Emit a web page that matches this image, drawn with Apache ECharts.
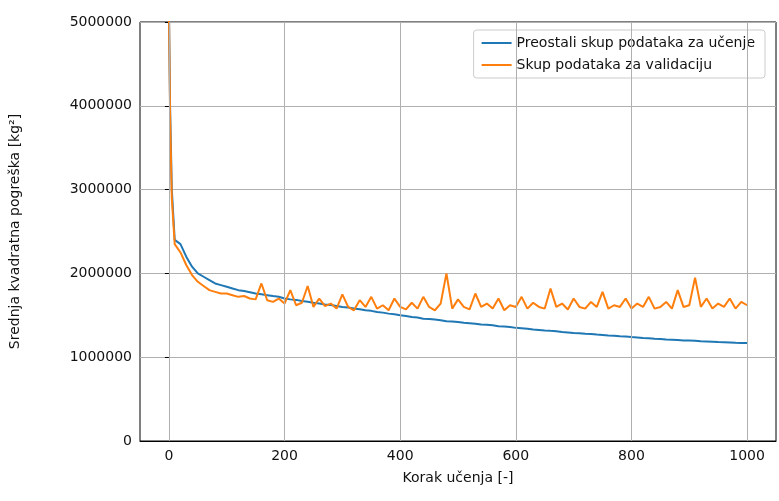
<!DOCTYPE html>
<html><head><meta charset="utf-8">
<script src="https://cdn.jsdelivr.net/npm/echarts@6/dist/echarts.min.js"></script>
<style>body{margin:0}#main{width:779px;height:501px}</style>
</head><body><div id="main"></div>
<script>
var steps = [0,2,5,10,20,30,40,50,60,70,80,90,100,110,120,130,140,150,160,170,180,190,200,210,220,230,240,250,260,270,280,290,300,310,320,330,340,350,360,370,380,390,400,410,420,430,440,450,460,470,480,490,500,510,520,530,540,550,560,570,580,590,600,610,620,630,640,650,660,670,680,690,700,710,720,730,740,750,760,770,780,790,800,810,820,830,840,850,860,870,880,890,900,910,920,930,940,950,960,970,980,990,1000];
// values in thousands of kg^2
var train = [5200,4000,3000,2400,2350,2200,2080,2000,1960,1920,1880,1860,1840,1820,1800,1790,1775,1760,1750,1740,1730,1722,1700,1690,1684,1670,1662,1650,1642,1630,1622,1612,1600,1592,1580,1572,1560,1553,1540,1532,1520,1512,1500,1492,1480,1473,1460,1456,1450,1441,1430,1426,1420,1410,1406,1400,1390,1386,1380,1370,1366,1360,1350,1346,1340,1330,1326,1320,1315,1311,1300,1296,1290,1286,1280,1276,1270,1266,1260,1256,1250,1246,1240,1236,1230,1226,1220,1216,1210,1208,1205,1200,1198,1195,1190,1188,1185,1180,1178,1175,1172,1170,1168];
var valid = [5200,3900,2900,2350,2250,2100,1980,1900,1850,1800,1780,1760,1760,1740,1720,1730,1700,1690,1880,1680,1660,1700,1640,1800,1620,1650,1850,1600,1700,1610,1640,1580,1750,1600,1560,1680,1600,1720,1580,1620,1560,1700,1600,1570,1650,1580,1720,1600,1560,1640,2000,1580,1690,1600,1570,1760,1600,1640,1580,1700,1560,1620,1600,1720,1580,1650,1600,1580,1820,1600,1640,1570,1700,1600,1580,1660,1600,1780,1580,1620,1600,1700,1580,1640,1600,1720,1580,1600,1660,1580,1800,1600,1620,1950,1600,1700,1580,1640,1600,1700,1580,1660,1620];
var xTicks = [0,200,400,600,800,1000];
var font = 'DejaVu Sans';

function pairs(v) { return steps.map(function (s, i) { return [s, v[i] * 1000]; }); }

var myChart = echarts.init(document.getElementById('main'));
myChart.setOption({
    animation: false,
    grid: {left: 138, right: 0, top: 22, bottom: 60, show: true, borderColor: '#000', borderWidth: 1},
    legend: {
        right: 14, top: 30, orient: 'vertical', backgroundColor: '#fff', borderColor: '#ccc', borderWidth: 1,
        borderRadius: 3, padding: [6, 10, 6, 8], itemWidth: 30, itemHeight: 2, itemGap: 8,
        textStyle: {fontFamily: font, fontSize: 14, color: '#111'},
        data: [{name: 'Preostali skup podataka za učenje', icon: 'rect'}, {name: 'Skup podataka za validaciju', icon: 'rect'}]
    },
    xAxis: {
        type: 'value', min: -50, max: 1050, interval: 50,
        name: 'Korak učenja [-]', nameLocation: 'middle', nameGap: 30,
        nameTextStyle: {fontFamily: font, fontSize: 14, color: '#111'},
        axisLine: {lineStyle: {color: '#000'}}, axisTick: {show: false}, splitLine: {show: false},
        axisLabel: {fontFamily: font, fontSize: 14, color: '#111',
            formatter: function (v) { return v % 200 === 0 && v >= 0 ? v : ''; }}
    },
    yAxis: {
        type: 'value', min: 0, max: 5000000, interval: 1000000,
        name: 'Srednja kvadratna pogreška [kg²]', nameLocation: 'middle', nameGap: 118,
        nameTextStyle: {fontFamily: font, fontSize: 14, color: '#111'},
        axisLine: {show: true, lineStyle: {color: '#000'}}, axisTick: {show: true, length: 4, lineStyle: {color: '#000'}},
        splitLine: {lineStyle: {color: '#b0b0b0', width: 1}},
        axisLabel: {fontFamily: font, fontSize: 14, color: '#111', formatter: function (v) { return String(v); }}
    },
    series: [{
        name: 'Preostali skup podataka za učenje', type: 'line', data: pairs(train), showSymbol: false,
        lineStyle: {color: '#1f77b4', width: 2}, itemStyle: {color: '#1f77b4'},
        markLine: {silent: true, symbol: 'none', label: {show: false},
            lineStyle: {color: '#b0b0b0', type: 'solid', width: 1},
            data: xTicks.map(function (t) { return {xAxis: t}; })}
    }, {
        name: 'Skup podataka za validaciju', type: 'line', data: pairs(valid), showSymbol: false,
        lineStyle: {color: '#ff7f0e', width: 2}, itemStyle: {color: '#ff7f0e'}
    }]
});
</script></body></html>
